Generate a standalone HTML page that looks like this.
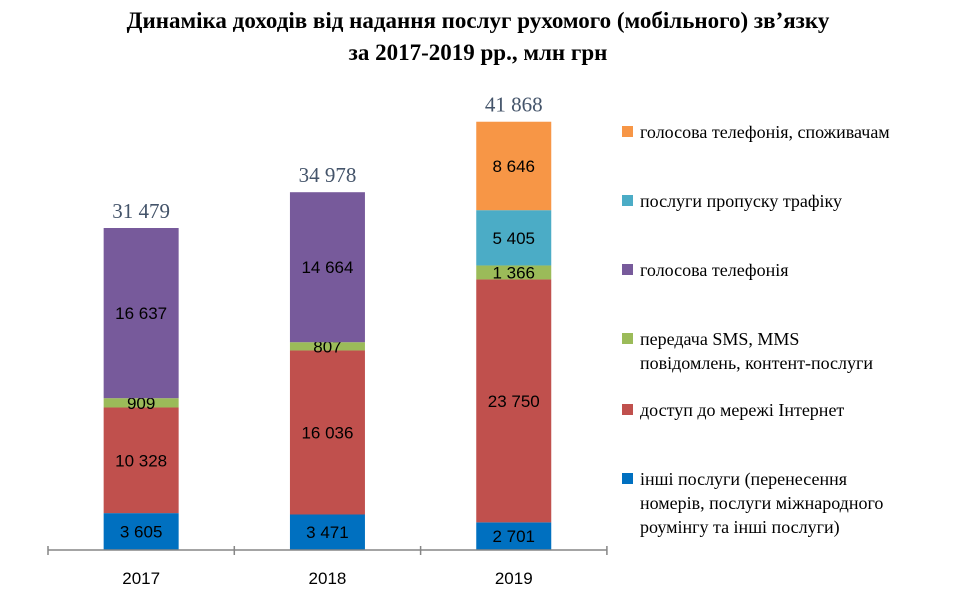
<!DOCTYPE html>
<html><head><meta charset="utf-8"><style>
body{margin:0;background:#fff;}
svg{display:block;}
</style></head><body>
<svg id="c" width="956" height="596" xmlns="http://www.w3.org/2000/svg">
<text x="478" y="28" text-anchor="middle" font-family="Liberation Serif, serif" font-weight="bold" font-size="23">Динаміка доходів від надання послуг рухомого (мобільного) зв’язку</text>
<text x="478" y="60" text-anchor="middle" font-family="Liberation Serif, serif" font-weight="bold" font-size="23">за 2017-2019 рр., млн грн</text>
<g id="bars"></g>
<g id="axis"></g>
<g id="legend"></g>
</svg>
<script>
const years = ["2017","2018","2019"];
const other = [3605, 3471, 2701];
const internet = [10328, 16036, 23750];
const sms = [909, 807, 1366];
const voice = [16637, 14664, 0];
const traffic = [0, 0, 5405];
const voiceConsumers = [0, 0, 8646];
const totals = ["31 479","34 978","41 868"];
const seriesNames = ["other","internet","sms","voice","traffic","voice-consumers"];
const legendLabels = [
 ["голосова телефонія, споживачам"],
 ["послуги пропуску трафіку"],
 ["голосова телефонія"],
 ["передача SMS, MMS","повідомлень, контент-послуги"],
 ["доступ до мережі Інтернет"],
 ["інші послуги (перенесення","номерів, послуги міжнародного","роумінгу та інші послуги)"]
];
const colors = ["#0070c0","#c0504d","#9bbb59","#775a9b","#4bacc6","#f79646"];
const NS="http://www.w3.org/2000/svg";
const base=550, k=322/31479, x0=48, step=186.3, bw=75;
const y = v => base - v*k;
const xc = i => x0 + step*(i+0.5);
const fmt = v => String(v).replace(/\B(?=(\d{3})+(?!\d))/g," ");
const series=[other,internet,sms,voice,traffic,voiceConsumers];
const gb=document.getElementById("bars");
years.forEach((yr,i)=>{
  let cum=0;
  series.forEach((s,j)=>{
    const v=s[i]; if(!v) return;
    const r=document.createElementNS(NS,"rect");
    r.setAttribute("x",xc(i)-bw/2); r.setAttribute("y",y(cum+v));
    r.setAttribute("width",bw); r.setAttribute("height",v*k);
    r.setAttribute("fill",colors[j]);
    
    
    gb.appendChild(r);
    const t=document.createElementNS(NS,"text");
    t.setAttribute("x",xc(i)); t.setAttribute("y",y(cum+v/2)+6);
    t.setAttribute("text-anchor","middle");
    t.setAttribute("font-family","Liberation Sans, sans-serif");
    t.setAttribute("font-size","17");
    t.textContent=fmt(v);
    
    
    gb.appendChild(t);
    cum+=v;
  });
  const tt=document.createElementNS(NS,"text");
  tt.setAttribute("x",xc(i)); tt.setAttribute("y",y(cum)-10);
  tt.setAttribute("text-anchor","middle");
  tt.setAttribute("font-family","Liberation Serif, serif");
  tt.setAttribute("font-size","21"); tt.setAttribute("fill","#44546a");
  tt.textContent=totals[i];
  
  
  gb.appendChild(tt);
});
const ga=document.getElementById("axis");
const ln=document.createElementNS(NS,"line");
ln.setAttribute("x1",x0); ln.setAttribute("x2",x0+step*3); ln.setAttribute("y1",base); ln.setAttribute("y2",base);
ln.setAttribute("stroke","#868686"); ln.setAttribute("stroke-width","1.5");


ga.appendChild(ln);
for(let i=0;i<=3;i++){
  const tk=document.createElementNS(NS,"line");
  tk.setAttribute("x1",x0+step*i); tk.setAttribute("x2",x0+step*i); tk.setAttribute("y1",base-4); tk.setAttribute("y2",base+5);
  tk.setAttribute("stroke","#868686"); tk.setAttribute("stroke-width","1.5");
  
  
  ga.appendChild(tk);
}
years.forEach((yr,i)=>{
  const t=document.createElementNS(NS,"text");
  t.setAttribute("x",xc(i)); t.setAttribute("y",584); t.setAttribute("text-anchor","middle");
  t.setAttribute("font-family","Liberation Sans, sans-serif"); t.setAttribute("font-size","17");
  t.textContent=yr;
  
  
  ga.appendChild(t);
});
const gl=document.getElementById("legend");
const ly=[132,201,270,339,410,479];
const lc=[5,4,3,2,1,0];
legendLabels.forEach((lines,i)=>{
  const g=document.createElementNS(NS,"g");
  
  
  const r=document.createElementNS(NS,"rect");
  r.setAttribute("x",622); r.setAttribute("y",ly[i]-6); r.setAttribute("width",11); r.setAttribute("height",11);
  r.setAttribute("fill",colors[lc[i]]);
  
  
  g.appendChild(r);
  lines.forEach((s,m)=>{
    const t=document.createElementNS(NS,"text");
    t.setAttribute("x",640); t.setAttribute("y",ly[i]+6+m*24);
    t.setAttribute("font-family","Liberation Serif, serif"); t.setAttribute("font-size","18");
    t.textContent=s;
    
    
    g.appendChild(t);
  });
  gl.appendChild(g);
});
</script>
</body></html>
